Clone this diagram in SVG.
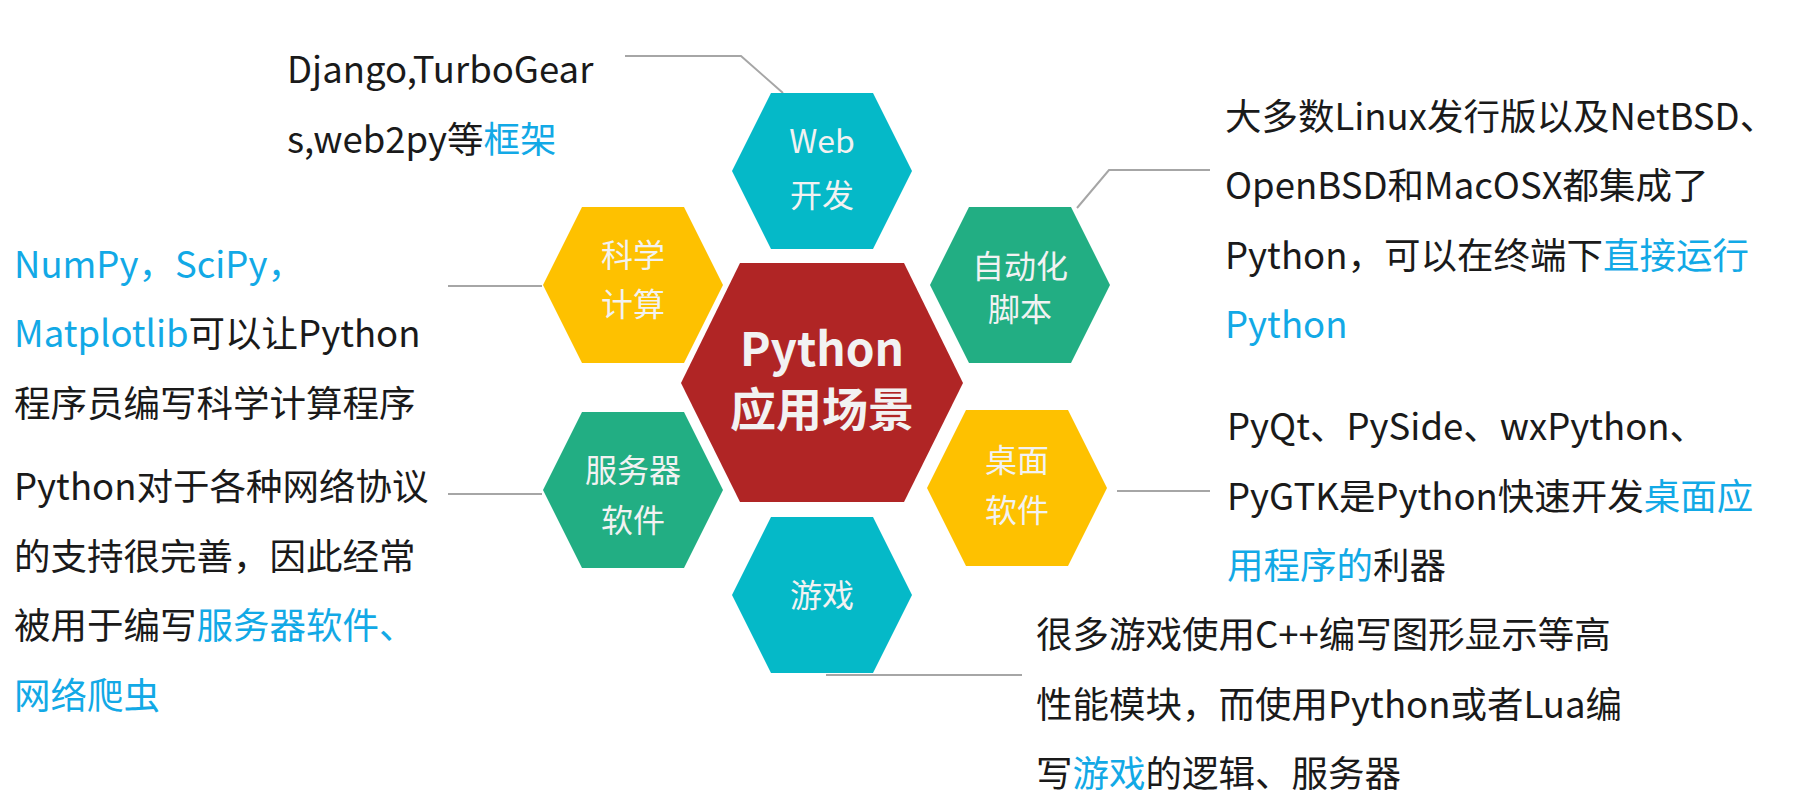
<svg xmlns="http://www.w3.org/2000/svg" xmlns:xlink="http://www.w3.org/1999/xlink" width="1796" height="810" viewBox="0 0 1796 810">
<style>
.t{font-family:"Noto Sans CJK SC","Liberation Sans",sans-serif;font-size:36.5px;fill:#1a1a1a}
.b{fill:#12a9e6}
.h{font-family:"Noto Sans CJK SC","Liberation Sans",sans-serif;font-size:32px;fill:#f2f2f2;text-anchor:middle}
.c{font-family:"Noto Sans CJK SC","Liberation Sans",sans-serif;font-size:46px;font-weight:bold;fill:#f2f2f2;text-anchor:middle}
.ln{fill:none;stroke:#a6a6a6;stroke-width:2}
</style>
<defs>
<polygon id="hx" points="-90,0 -51,-78 51,-78 90,0 51,78 -51,78"/>
</defs>
<rect width="1796" height="810" fill="#fff"/>
<g id="connectors">
<polyline class="ln" points="625,56 741,56 783,93"/>
<polyline class="ln" points="1210,170 1109,170 1077,208"/>
<line class="ln" x1="448" y1="286" x2="542" y2="286"/>
<line class="ln" x1="448" y1="494" x2="542" y2="494"/>
<line class="ln" x1="1117" y1="491" x2="1210" y2="491"/>
<line class="ln" x1="826" y1="675" x2="1022" y2="675"/>
</g>
<g id="center"><polygon points="681,383 740,263 904,263 963,383 904,502 740,502" fill="#b02525"/>
<text class="c" x="822" y="366">Python</text><text class="c" x="822" y="426">应用场景</text></g>
<g id="web"><use xlink:href="#hx" x="822" y="171" fill="#05b9c8"/><text class="h" x="822" y="153">Web</text><text class="h" x="822" y="207">开发</text></g>
<g id="sci"><use xlink:href="#hx" x="633" y="285" fill="#fec100"/><text class="h" x="633" y="267">科学</text><text class="h" x="633" y="316">计算</text></g>
<g id="auto"><use xlink:href="#hx" x="1020" y="285" fill="#22ae83"/><text class="h" x="1020" y="278">自动化</text><text class="h" x="1020" y="321">脚本</text></g>
<g id="server"><use xlink:href="#hx" x="633" y="490" fill="#22ae83"/><text class="h" x="633" y="482">服务器</text><text class="h" x="633" y="532">软件</text></g>
<g id="desk"><use xlink:href="#hx" x="1017" y="488" fill="#fec100"/><text class="h" x="1017" y="472">桌面</text><text class="h" x="1017" y="522">软件</text></g>
<g id="game"><use xlink:href="#hx" x="822" y="595" fill="#05b9c8"/><text class="h" x="822" y="607">游戏</text></g>
<g id="texts">
<text class="t" x="287" y="83">Django,TurboGear</text>
<text class="t" x="287" y="153">s,web2py等<tspan class="b">框架</tspan></text>
<text class="t" x="1225" y="130">大多数Linux发行版以及NetBSD、</text>
<text class="t" x="1225" y="199">OpenBSD和MacOSX都集成了</text>
<text class="t" x="1225" y="269">Python，可以在终端下<tspan class="b">直接运行</tspan></text>
<text class="t b" x="1225" y="338">Python</text>
<text class="t b" x="14" y="278">NumPy，SciPy，</text>
<text class="t" x="14" y="347"><tspan class="b">Matplotlib</tspan>可以让Python</text>
<text class="t" x="14" y="417">程序员编写科学计算程序</text>
<text class="t" x="14" y="500">Python对于各种网络协议</text>
<text class="t" x="14" y="570">的支持很完善，因此经常</text>
<text class="t" x="14" y="639">被用于编写<tspan class="b">服务器软件、</tspan></text>
<text class="t b" x="14" y="709">网络爬虫</text>
<text class="t" x="1227" y="440">PyQt、PySide、wxPython、</text>
<text class="t" x="1227" y="510">PyGTK是Python快速开发<tspan class="b">桌面应</tspan></text>
<text class="t" x="1227" y="579"><tspan class="b">用程序的</tspan>利器</text>
<text class="t" x="1036" y="648">很多游戏使用C++编写图形显示等高</text>
<text class="t" x="1036" y="718">性能模块，而使用Python或者Lua编</text>
<text class="t" x="1036" y="787">写<tspan class="b">游戏</tspan>的逻辑、服务器</text>
</g>
</svg>
